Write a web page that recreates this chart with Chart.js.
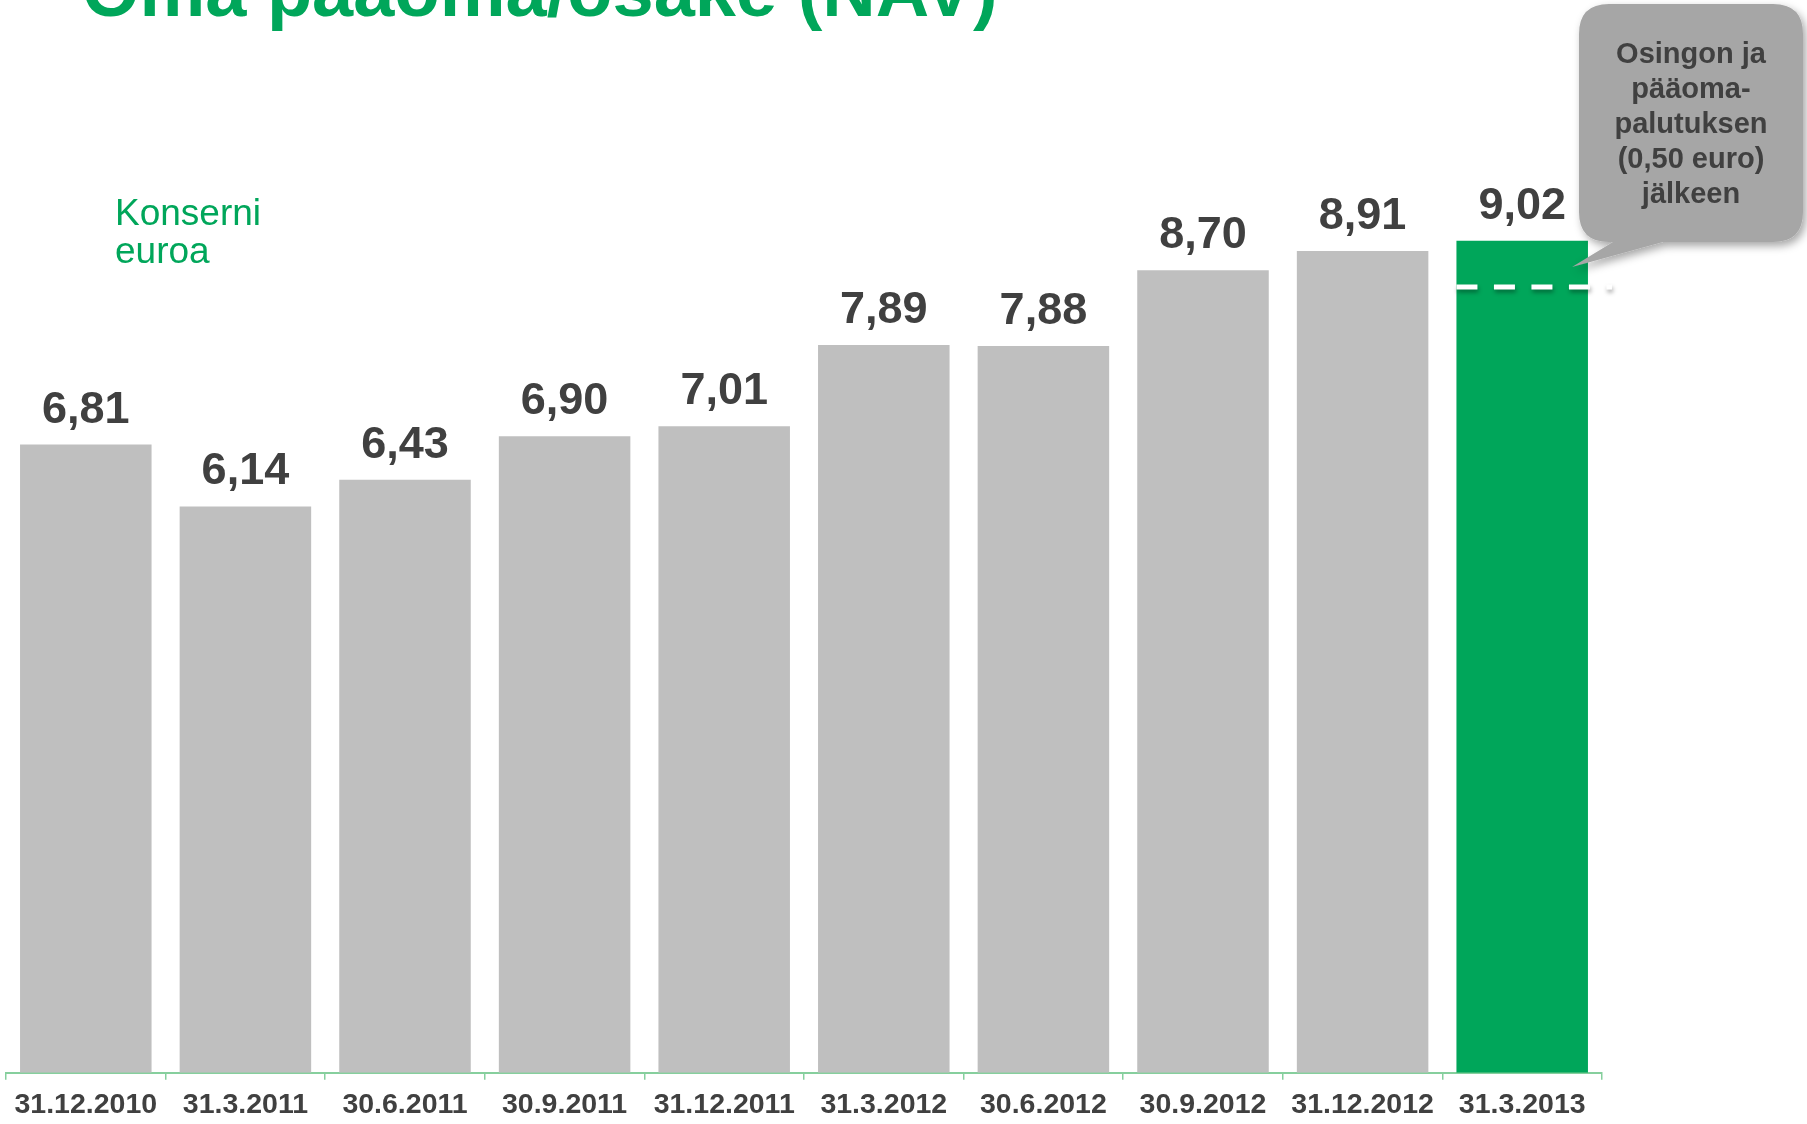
<!DOCTYPE html>
<html>
<head>
<meta charset="utf-8">
<script src="https://cdn.jsdelivr.net/npm/chart.js@4.4.1/dist/chart.umd.min.js"></script>
<style>
  html, body { margin: 0; padding: 0; background: #ffffff; overflow: hidden; }
  #wrap { position: relative; width: 1807px; height: 1124px; overflow: hidden; font-family: "Liberation Sans", Arial, sans-serif; }
  #c { position: absolute; left: 0; top: 0; }
  #title { position: absolute; left: 82px; top: -46px; font-size: 74px; line-height: 74px; font-weight: bold; color: #00a65a; white-space: nowrap; }
  #unit { position: absolute; left: 115px; top: 194px; font-size: 37px; line-height: 37.6px; color: #00a65a; }
  #callout { position: absolute; left: 1560px; top: 0px; width: 247px; height: 290px; }
  #calloutText { position: absolute; left: 1579px; top: 36px; width: 224px; text-align: center; font-size: 29px; line-height: 35px; font-weight: bold; color: #404040; }
</style>
</head>
<body>
<div id="wrap">
  <canvas id="c" width="1807" height="1134"></canvas>
  <div id="title">Oma pääoma/osake (NAV)</div>
  <div id="unit">Konserni<br>euroa</div>
  <svg id="callout" width="247" height="290" viewBox="0 0 247 290">
    <defs>
      <filter id="sh" x="-20%" y="-20%" width="140%" height="140%">
        <feDropShadow dx="3" dy="4" stdDeviation="4" flood-color="#000000" flood-opacity="0.35"/>
      </filter>
    </defs>
    <path filter="url(#sh)" fill="#a6a6a6"
      d="M49 4 H213 Q243 4 243 34 V212 Q243 242 213 242 H103 L12 267 L53 242 H49 Q19 242 19 212 V34 Q19 4 49 4 Z"/>
  </svg>
  <div id="calloutText">Osingon ja<br>pääoma-<br>palutuksen<br>(0,50 euro)<br>jälkeen</div>
</div>
<script>
// ---- data ----
const categories = ['31.12.2010', '31.3.2011', '30.6.2011', '30.9.2011', '31.12.2011',
                    '31.3.2012', '30.6.2012', '30.9.2012', '31.12.2012', '31.3.2013'];
const navValues = [6.81, 6.14, 6.43, 6.90, 7.01, 7.89, 7.88, 8.70, 8.91, 9.02];
const capitalReturn = 0.50;          // osinko ja pääomanpalautus, euroa
const navAfterReturn = [9.02 - 0.50]; // viimeisen pylvään arvo palautuksen jälkeen

const grayBar = '#bfbfbf';
const greenBar = '#00a65a';
const barColors = navValues.map((v, i) => i === navValues.length - 1 ? greenBar : grayBar);
const FONT = '"Liberation Sans", Arial, sans-serif';

const valueLabels = {
  id: 'valueLabels',
  afterDatasetsDraw(chart) {
    const ctx = chart.ctx;
    const meta = chart.getDatasetMeta(0);
    ctx.save();
    ctx.font = 'bold 45px ' + FONT;
    ctx.fillStyle = '#404040';
    ctx.textAlign = 'center';
    ctx.textBaseline = 'alphabetic';
    meta.data.forEach((bar, i) => {
      const txt = navValues[i].toFixed(2).replace('.', ',');
      ctx.fillText(txt, bar.x, bar.y - 22);
    });
    ctx.restore();
  }
};

const dashedLine = {
  id: 'dashedLine',
  afterDatasetsDraw(chart) {
    const ctx = chart.ctx;
    const meta = chart.getDatasetMeta(0);
    const bar = meta.data[meta.data.length - 1];
    const y = chart.scales.y.getPixelForValue(navAfterReturn[0]);
    const x0 = bar.x - bar.width / 2;
    const x1 = bar.x + bar.width / 2 + 24;
    ctx.save();
    ctx.strokeStyle = '#ffffff';
    ctx.lineWidth = 5;
    ctx.setLineDash([21, 16.5]);
    ctx.shadowColor = 'rgba(0,0,0,0.35)';
    ctx.shadowBlur = 4;
    ctx.shadowOffsetX = 1;
    ctx.shadowOffsetY = 3;
    ctx.beginPath();
    ctx.moveTo(x0, y);
    ctx.lineTo(x1, y);
    ctx.stroke();
    ctx.restore();
  }
};

new Chart(document.getElementById('c'), {
  type: 'bar',
  data: {
    labels: categories,
    datasets: [{
      data: navValues,
      backgroundColor: barColors,
      borderWidth: 0,
      barPercentage: 0.824,
      categoryPercentage: 1.0
    }]
  },
  options: {
    responsive: false,
    animation: false,
    devicePixelRatio: 1,
    layout: { padding: { left: 6, right: 205, top: 12, bottom: 4 } },
    plugins: { legend: { display: false }, tooltip: { enabled: false }, title: { display: false } },
    scales: {
      x: {
        grid: { display: true, drawOnChartArea: false, drawTicks: true, tickLength: 7, color: '#86cf9d', lineWidth: 1.5 },
        border: { display: true, color: '#86cf9d', width: 2 },
        ticks: { color: '#404040', font: { family: FONT, size: 28.5, weight: 'bold' }, padding: 8, maxRotation: 0, autoSkip: false }
      },
      y: {
        display: false,
        min: 0,
        max: 11.5
      }
    }
  },
  plugins: [valueLabels, dashedLine]
});
</script>
</body>
</html>
